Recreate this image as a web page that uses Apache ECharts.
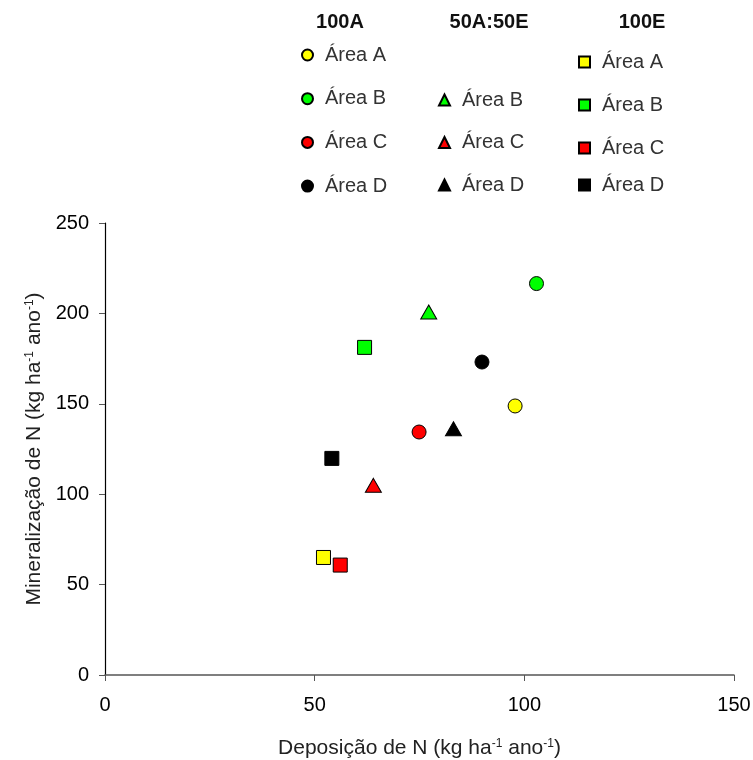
<!DOCTYPE html>
<html>
<head>
<meta charset="utf-8">
<script src="https://cdn.jsdelivr.net/npm/echarts@6/dist/echarts.min.js"></script>
<style>
  html, body { margin: 0; padding: 0; background: #fff; }
  #chart { width: 753px; height: 760px; }
</style>
</head>
<body>
<div id="chart"></div>
<script>
const areas = ['Área A', 'Área B', 'Área C', 'Área D'];
const areaColors = ['#ffff00', '#00ff00', '#ff0000', '#000000'];
const treatments = ['100A', '50A:50E', '100E'];
const symbols = ['circle', 'triangle', 'rect'];

// deposição (x) e mineralização (y) por tratamento, na ordem de areas
const dep100A = [97.8, 102.9, 74.9, 89.9];
const min100A = [148.8, 216.5, 134.4, 173.1];
const dep50A50E = [null, 77.2, 64.0, 83.1];
const min50A50E = [null, 200.8, 104.9, 136.2];
const dep100E = [52.1, 61.9, 56.1, 54.1];
const min100E = [65.0, 181.2, 60.8, 119.8];

const xTicks = [0, 50, 100, 150];
const yTicks = [0, 50, 100, 150, 200, 250];

const depData = [dep100A, dep50A50E, dep100E];
const minData = [min100A, min50A50E, min100E];

const font = 'Liberation Sans, Arial, sans-serif';
const series = [];
const legendNames = [[], [], []];

treatments.forEach((t, ti) => {
  areas.forEach((a, ai) => {
    const x = depData[ti][ai];
    if (x == null) return;
    const name = t + '|' + a;
    legendNames[ti].push(name);
    series.push({
      name: name,
      type: 'scatter',
      symbol: symbols[ti],
      symbolSize: ti === 1 ? [16, 14] : 14,
      itemStyle: { color: areaColors[ai], borderColor: '#000', borderWidth: 1, opacity: 1 },
      data: [[x, minData[ti][ai]]]
    });
  });
});

// last entry of the 100E column sits a bit closer, so it gets its own block
const legendBlocks = [
  { names: legendNames[0], left: 296, top: 40, gap: 23.7 },
  { names: legendNames[1], left: 433, top: 85, gap: 22.5 },
  { names: legendNames[2].slice(0, 3), left: 573, top: 47, gap: 23 },
  { names: legendNames[2].slice(3), left: 573, top: 170, gap: 0 }
];

const legends = legendBlocks.map(b => ({
  data: b.names,
  orient: 'vertical',
  left: b.left,
  top: b.top,
  itemWidth: 11,
  itemHeight: 11,
  itemGap: b.gap,
  selectedMode: false,
  formatter: n => n.split('|')[1],
  textStyle: { fontFamily: font, fontSize: 20, color: '#333', padding: [0, 0, 0, 7] }
}));

const headerX = [335, 484, 637];
const titles = treatments.map((t, i) => ({
  text: t,
  left: headerX[i],
  top: 7,
  textAlign: 'center',
  textStyle: { fontFamily: font, fontSize: 20, fontWeight: 'bold', color: '#111' }
}));

const richName = {
  a: { fontFamily: font, fontSize: 21, color: '#222' },
  s: { fontFamily: font, fontSize: 12, color: '#222', verticalAlign: 'top', padding: [0, 0, 9, 0] }
};

const chart = echarts.init(document.getElementById('chart'));
chart.setOption({
  animation: false,
  backgroundColor: '#fff',
  title: titles,
  legend: legends,
  grid: { left: 105, right: 19, top: 223, bottom: 85, containLabel: false, outerBoundsMode: 'none' },
  xAxis: {
    type: 'value',
    min: xTicks[0],
    max: xTicks[xTicks.length - 1],
    interval: 50,
    name: '{a|Deposição de N (kg ha}{s|-1}{a| ano}{s|-1}{a|)}',
    nameLocation: 'middle',
    nameGap: 63,
    nameTextStyle: { rich: richName },
    axisLine: { lineStyle: { color: '#555', width: 1.5 } },
    axisTick: { length: 6, lineStyle: { color: '#555' } },
    axisLabel: { fontFamily: font, fontSize: 20, color: '#000', margin: 20 },
    splitLine: { show: false }
  },
  yAxis: {
    type: 'value',
    min: yTicks[0],
    max: yTicks[yTicks.length - 1],
    interval: 50,
    name: '{a|Mineralização de N (kg ha}{s|-1}{a| ano}{s|-1}{a|)}',
    nameLocation: 'middle',
    nameGap: 57,
    nameTextStyle: { rich: richName },
    axisLine: { show: true, lineStyle: { color: '#000', width: 1.2 } },
    axisTick: { show: true, length: 6, lineStyle: { color: '#555' } },
    axisLabel: { fontFamily: font, fontSize: 20, color: '#000', margin: 16 },
    splitLine: { show: false }
  },
  series: series
});
</script>
</body>
</html>
